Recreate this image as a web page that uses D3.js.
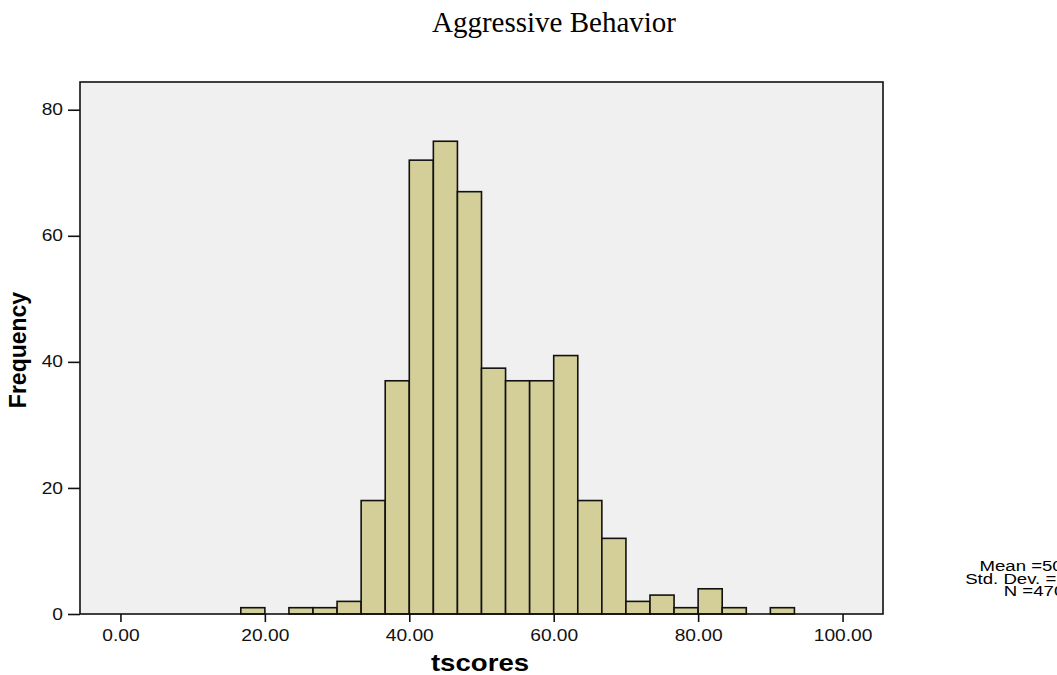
<!DOCTYPE html>
<html>
<head>
<meta charset="utf-8">
<script src="https://cdn.jsdelivr.net/npm/d3@7"></script>
<style>
  body { margin: 0; background: #fff; }
</style>
</head>
<body>
<div id="chart"></div>
<script>
// histogram data (bin width 10/3)
const binStarts = [16.667, 20, 23.333, 26.667, 30, 33.333, 36.667, 40, 43.333, 46.667, 50, 53.333,
                   56.667, 60, 63.333, 66.667, 70, 73.333, 76.667, 80, 83.333, 86.667, 90]
const counts = [1, 0, 1, 1, 2, 18, 37, 72, 75, 67, 39, 37, 37, 41, 18, 12, 2, 3, 1, 4, 1, 0, 1]
const binWidth = 10 / 3
const xTicks = [0, 20, 40, 60, 80, 100]
const yTicks = [0, 20, 40, 60, 80]
const statLines = ['Mean =50.00', 'Std. Dev. =10.00', 'N =470']

const w = 1057, h = 675
const plotL = 80, plotR = 883, plotT = 82, plotB = 614
const sans = '"Liberation Sans", Arial, sans-serif'
const wide = 1.2   // the sans texts of the original look a bit wider than Arial

const svg = d3.select('#chart').append('svg')
    .attr('width', w)
    .attr('height', h)

const xScale = d3.scaleLinear().domain([-5.6, 105.6]).range([plotL, plotR])
const yScale = d3.scaleLinear().domain([0, 84.4]).range([plotB, plotT])

// plot background
svg.append('rect')
    .attr('x', plotL).attr('y', plotT)
    .attr('width', plotR - plotL).attr('height', plotB - plotT)
    .attr('fill', '#f0f0f0')

// bars
svg.selectAll('.bar')
    .data(binStarts.map((s, i) => ({s: s, c: counts[i]})).filter(d => d.c > 0))
    .enter()
    .append('rect')
    .attr('class', 'bar')
    .attr('x', d => xScale(d.s))
    .attr('y', d => yScale(d.c))
    .attr('width', d => xScale(d.s + binWidth) - xScale(d.s))
    .attr('height', d => yScale(0) - yScale(d.c))
    .attr('fill', '#d4cf98')
    .attr('stroke', '#111')
    .attr('stroke-width', 1.6)

// frame
svg.append('rect')
    .attr('x', plotL).attr('y', plotT)
    .attr('width', plotR - plotL).attr('height', plotB - plotT)
    .attr('fill', 'none')
    .attr('stroke', '#111')
    .attr('stroke-width', 1.6)

// axes
const xAxis = d3.axisBottom(xScale).tickValues(xTicks).tickFormat(d3.format('.2f')).tickSize(8).tickPadding(8)
const yAxis = d3.axisLeft(yScale).tickValues(yTicks).tickFormat(d3.format('d')).tickSize(12).tickPadding(5)

const gx = svg.append('g').attr('transform', 'translate(0,' + plotB + ')').call(xAxis)
const gy = svg.append('g').attr('transform', 'translate(' + plotL + ',0)').call(yAxis)
;[gx, gy].forEach(g => {
    g.attr('font-family', sans).attr('font-size', 16)
    g.select('.domain').remove()
    g.selectAll('line').attr('stroke', '#111').attr('stroke-width', 1.6)
    g.selectAll('text').attr('fill', '#111')
        .each(function() {
            const t = d3.select(this)
            const x = +t.attr('x') || 0
            t.attr('x', 0).attr('transform', 'translate(' + x + ',0) scale(' + wide + ',1)')
        })
})

// title and axis labels
svg.append('text')
    .text('Aggressive Behavior')
    .attr('x', 554).attr('y', 32)
    .attr('text-anchor', 'middle')
    .attr('font-family', '"Liberation Serif", "Times New Roman", serif')
    .attr('font-size', 29)

svg.append('text')
    .text('tscores')
    .attr('transform', 'translate(480,671) scale(' + wide + ',1)')
    .attr('text-anchor', 'middle')
    .attr('font-family', sans)
    .attr('font-weight', 'bold')
    .attr('font-size', 23)

svg.append('text')
    .text('Frequency')
    .attr('transform', 'translate(26,350) rotate(-90)')
    .attr('text-anchor', 'middle')
    .attr('font-family', sans)
    .attr('font-weight', 'bold')
    .attr('font-size', 23)

// stats box, runs off the right edge like the original
svg.selectAll('.stat')
    .data(statLines)
    .enter()
    .append('text')
    .attr('class', 'stat')
    .text(d => d)
    .attr('transform', (d, i) => 'translate(1034,' + (571 + i * 12.5) + ') scale(' + wide + ',1)')
    .attr('text-anchor', 'middle')
    .attr('font-family', sans)
    .attr('font-size', 15.5)
</script>
</body>
</html>
